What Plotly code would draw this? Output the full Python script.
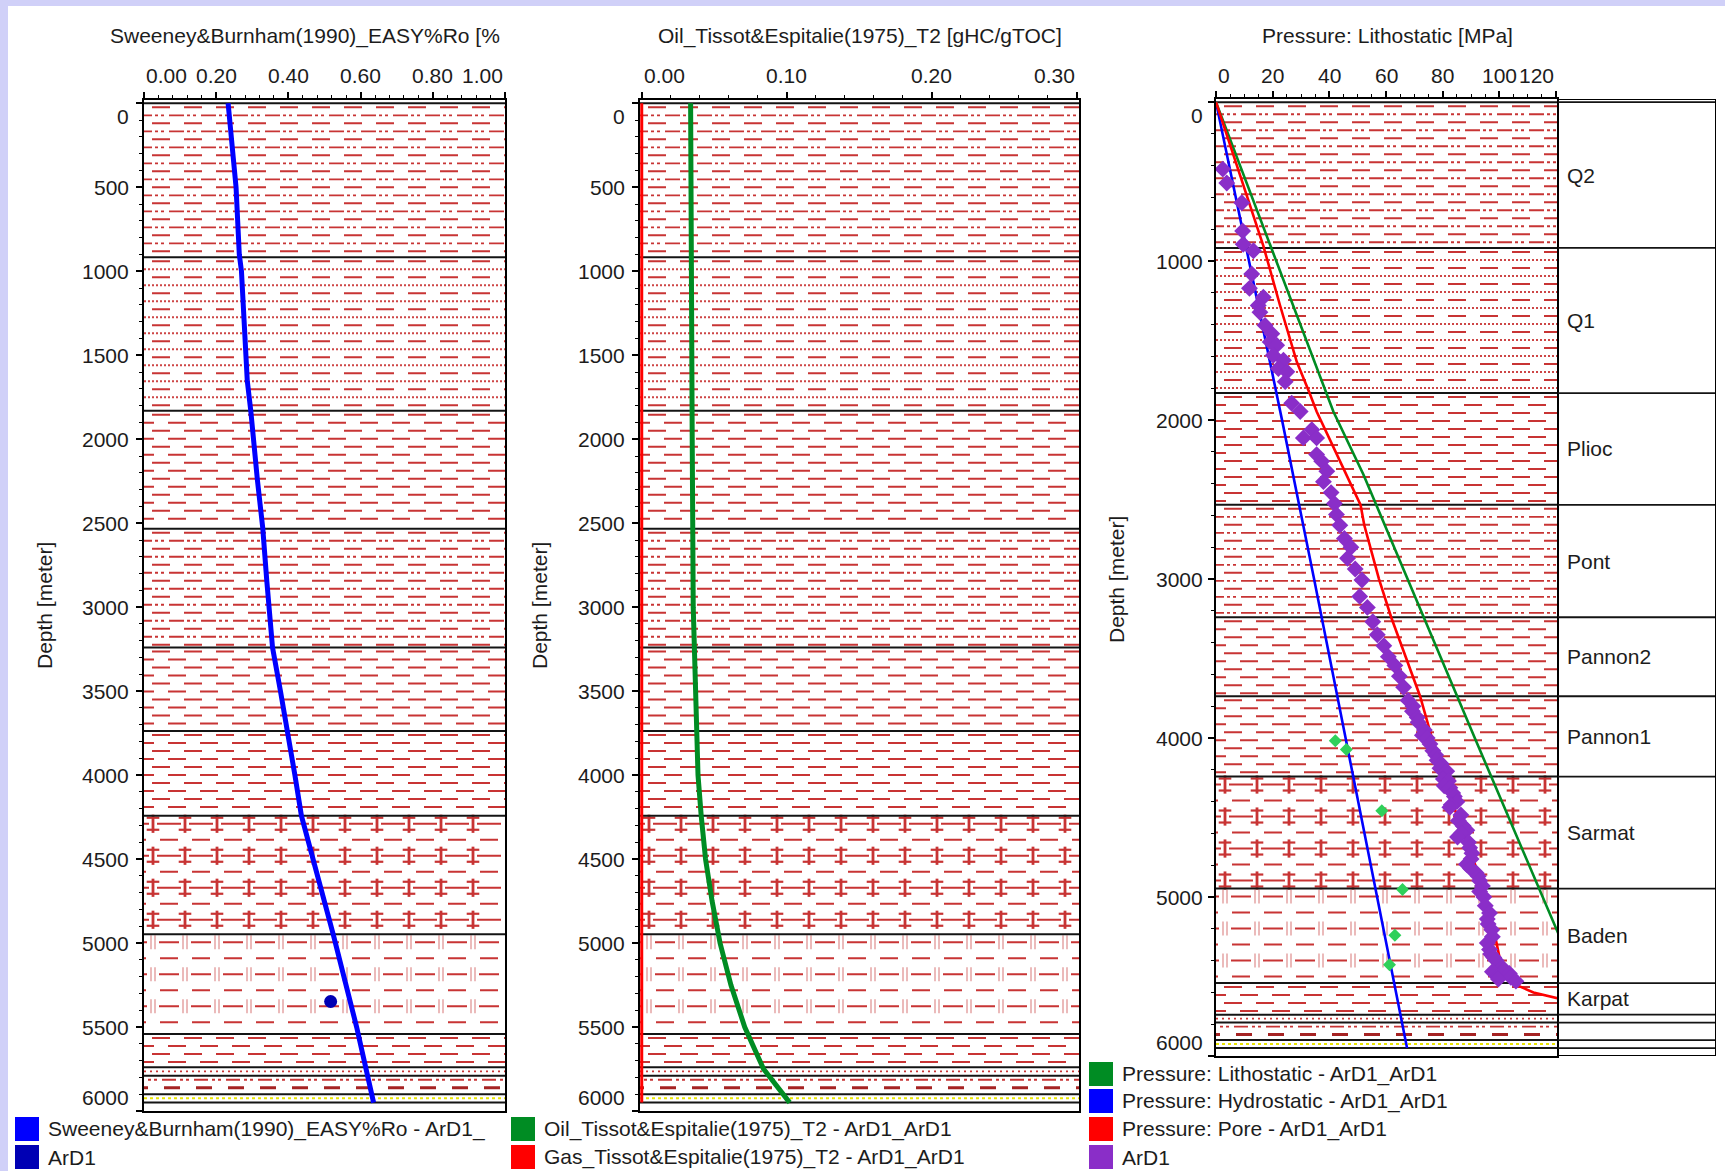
import plotly.graph_objects as go

W, H = 1725, 1171
FONT = "Liberation Sans, Arial, sans-serif"
TXT = "#1c1c1c"
RED_H = "rgb(200,52,52)"

# ---------------- data ----------------
formation_names = ["Q2", "Q1", "Plioc", "Pont", "Pannon2", "Pannon1", "Sarmat", "Baden", "Karpat"]
formation_tops = [0, 917, 1830, 2533, 3240, 3737, 4242, 4947, 5541]
minor_layer_tops = [5740, 5790, 5900, 5950]
section_base = 6000
layer_lithology = ["shale_slash", "shale_silt", "shale", "shale_slash", "shale", "shale",
                   "marl", "marl_silt", "shale", "dotted", "silt", "sand", "none"]

ro_depth = [0, 350, 500, 900, 1000, 1650, 1835, 2240, 2530, 2840, 3240, 3500, 3740, 4000,
            4242, 4500, 4947, 5500, 5950]
ro_value = [0.233, 0.247, 0.255, 0.264, 0.270, 0.286, 0.296, 0.314, 0.329, 0.340, 0.356, 0.378,
            0.398, 0.418, 0.436, 0.469, 0.524, 0.589, 0.636]
ro_meas_depth = [5348]
ro_meas_value = [0.517]

oil_depth = [0, 1000, 2000, 3000, 3500, 4000, 4242, 4500, 4750, 5000, 5250, 5500, 5750, 5950]
oil_value = [0.0337, 0.0340, 0.0348, 0.0355, 0.0370, 0.0388, 0.0410, 0.0440, 0.0485, 0.0540,
             0.0615, 0.0710, 0.0840, 0.1020]
gas_depth = [0, 5950]
gas_value = [0.0, 0.0]

litho_depth = [0, 950, 1946, 2342, 3000, 4000, 5240, 5950]
litho_mpa = [0.0, 20.2, 41.4, 52.0, 67.5, 91.3, 121.0, 138.0]
hydro_depth = [0, 1000, 2000, 3000, 4000, 5000, 5950]
hydro_mpa = [0.0, 11.7, 23.3, 34.6, 45.8, 56.9, 67.4]
pore_depth = [0, 904, 1279, 1633, 1830, 1946, 2154, 2362, 2533, 2660, 3000, 3240, 3737, 4242,
              4590, 4947, 5275, 5420, 5500, 5550, 5600, 5635, 5660]
pore_mpa = [0.0, 16.7, 22.6, 28.5, 33.0, 35.5, 41.0, 46.5, 51.0, 52.3, 57.5, 61.8, 72.0, 80.0,
            87.2, 94.5, 98.8, 100.5, 102.5, 105.5, 112.0, 120.3, 126.0]

meas_depth = [421, 508, 633, 810, 894, 935, 1081, 1171, 1227, 1279, 1321, 1404, 1456, 1508, 1529,
              1592, 1623, 1675, 1696, 1758, 1894, 1946, 2060, 2112, 2112, 2217, 2258, 2321,
              2387, 2456, 2525, 2594, 2662, 2745, 2800, 2869, 2937, 3006, 3109, 3178, 3268, 3350,
              3419, 3488, 3543, 3611, 3680, 3763, 3800, 3831, 3870, 3900, 3950, 3983, 4000, 4038,
              4080, 4106, 4140, 4161, 4190, 4209, 4258, 4270, 4300, 4313, 4345, 4368, 4400, 4420,
              4436, 4484, 4520, 4553, 4580, 4600, 4622, 4656, 4690, 4725, 4760, 4794, 4820, 4849,
              4870, 4897, 4930, 4966, 5000, 5055, 5100, 5138, 5170, 5206, 5250, 5289, 5330, 5358,
              5380, 5399, 5440, 5460, 5470, 5481, 5500, 5505, 5516, 5529]
meas_mpa = [2.4, 3.8, 9.1, 9.4, 9.6, 13.2, 12.6, 11.8, 16.7, 14.9, 15.5, 17.3, 19.7, 19.1, 21.4,
            20.2, 23.8, 22.0, 25.0, 24.4, 26.7, 29.7, 33.8, 30.8, 35.5, 35.5, 37.3, 39.1,
            37.9, 40.6, 41.8, 42.5, 43.7, 45.3, 47.6, 46.4, 49.1, 51.5, 50.7, 53.4, 55.3, 56.9,
            59.2, 60.8, 63.1, 64.7, 66.2, 67.8, 69.5, 69.3, 71.0, 71.3, 73.5, 72.8, 74.5, 75.5,
            76.5, 77.5, 78.0, 79.4, 79.0, 81.4, 80.2, 82.0, 80.5, 82.5, 83.5, 84.1, 85.0, 83.0,
            82.5, 86.4, 85.5, 87.2, 88.5, 86.5, 85.2, 89.1, 89.5, 90.3, 90.0, 88.4, 89.8, 91.8,
            92.5, 93.0, 94.0, 93.0, 94.5, 95.0, 96.5, 95.7, 96.0, 97.3, 97.5, 95.7, 96.5, 96.9,
            98.0, 98.8, 100.8, 101.5, 97.5, 103.5, 99.5, 104.0, 99.6, 105.8]
hmeas_depth = [4017, 4072, 4457, 4952, 5241, 5426]
hmeas_mpa = [42.1, 46.0, 58.5, 65.8, 63.1, 61.2]

ro_ticks = [0.0, 0.2, 0.4, 0.6, 0.8, 1.0]
gen_ticks = [0.0, 0.1, 0.2, 0.3]
p_ticks = [0, 20, 40, 60, 80, 100, 120]
depth_ticks_fine = list(range(0, 6001, 500))
depth_ticks_coarse = list(range(0, 6001, 1000))

panel_titles = ["Sweeney&Burnham(1990)_EASY%Ro [%", "Oil_Tissot&Espitalie(1975)_T2 [gHC/gTOC]",
                "Pressure: Lithostatic [MPa]"]
legend_items = [
    ("Sweeney&Burnham(1990)_EASY%Ro - ArD1_", "#0000ff", 15, 1129),
    ("ArD1", "#0000b4", 15, 1157),
    ("Oil_Tissot&Espitalie(1975)_T2 - ArD1_ArD1", "#008c23", 511, 1129),
    ("Gas_Tissot&Espitalie(1975)_T2 - ArD1_ArD1", "#ff0000", 511, 1157),
    ("Pressure: Lithostatic - ArD1_ArD1", "#008c23", 1089, 1074),
    ("Pressure: Hydrostatic - ArD1_ArD1", "#0000ff", 1089, 1101),
    ("Pressure: Pore - ArD1_ArD1", "#ff0000", 1089, 1129),
    ("ArD1", "#8a2ec8", 1089, 1157),
]

# ---------------- layout geometry ----------------
YR = [6000, -20]
PANELS = [
    dict(xa="x", ya="y", left=144, right=505, top=100, bottom=1111, xr=[0.0, 1.0], lshift=-13),
    dict(xa="x2", ya="y2", left=640, right=1079, top=100, bottom=1111, xr=[-0.0012, 0.3015],
         lshift=-13),
    dict(xa="x3", ya="y3", left=1216, right=1557, top=99, bottom=1056, xr=[0.0, 120.3],
         lshift=-11),
]
COL_L, COL_R = 1557, 1716


def fx(px):
    return px / W


def fy(py):
    return 1 - py / H


fig = go.Figure()
layer_tops = formation_tops + minor_layer_tops
layer_bases = layer_tops[1:] + [section_base]


def add_hatching(p):
    x0, x1 = p["xr"]
    wpx = p["right"] - p["left"]
    ux = (x1 - x0) / wpx
    uy = (YR[0] - YR[1]) / (p["bottom"] - p["top"])
    lines = {}
    marks = {}

    def hline(d, start, dash, width=2.0, color=RED_H):
        g = lines.setdefault((start, dash, width, color), ([], []))
        g[0].extend([x0 + start * ux, x1 + 3 * ux, None])
        g[1].extend([d, d, None])

    def glyphs(d, offset, symbol, size, width, color, dy=0.0):
        g = marks.setdefault((symbol, size, width, color), ([], []))
        xp = offset
        while xp < wpx - 2:
            g[0].append(x0 + xp * ux)
            g[1].append(d + dy * uy)
            xp += 32

    for top, base, lith in zip(layer_tops, layer_bases, layer_lithology):
        if lith == "none":
            continue
        pitch = 16 if lith in ("marl", "marl_silt") else 8
        first = 8 if pitch == 16 else 4
        k = 0
        while True:
            d = top + (first + pitch * k) * uy
            if d > base - 2.5 * uy:
                break
            if lith == "shale":
                hline(d, -24 if k % 2 == 0 else -8, "18px,14px")
            elif lith == "shale_slash":
                if k % 2 == 0:
                    hline(d, -24, "18px,14px")
                else:
                    hline(d, -21, "3px,3px,3px,5px,15px,3px", 1.9)
            elif lith == "shale_silt":
                if k % 2 == 0:
                    hline(d, -24, "18px,14px")
                else:
                    hline(d, 0, "2px,2px", 2.0, "rgb(205,70,70)")
            elif lith == "marl":
                if k % 2 == 0:
                    hline(d, -19, "24px,8px")
                    glyphs(d, 9, "line-ns", 13, 2.8, RED_H)
                    glyphs(d, 9, "line-ew", 9, 2.2, RED_H, -6.0)
                    glyphs(d, 9, "line-ew", 9, 2.2, RED_H, 6.0)
                else:
                    hline(d, -16, "18px,14px")
            elif lith == "marl_silt":
                if k % 2 == 0:
                    hline(d, -17, "20px,12px")
                    glyphs(d, 7, "line-ns", 10, 1.2, "rgb(222,140,140)")
                    glyphs(d, 11, "line-ns", 10, 1.2, "rgb(222,140,140)")
                else:
                    hline(d, -16, "18px,14px")
            elif lith == "dotted":
                hline(d, 0, "2px,4px", 1.8)
            elif lith == "silt":
                if k % 2 == 0:
                    hline(d, -28, "3px,3px,3px,5px,14px,4px", 1.8)
                else:
                    hline(d, -12, "16px,16px", 3.0, "rgb(165,35,35)")
            elif lith == "sand":
                hline(d, 0, "3px,3px", 2.0, "rgb(232,228,0)")
            k += 1

    for (start, dash, width, color), (xs, ys) in lines.items():
        fig.add_trace(go.Scatter(x=xs, y=ys, mode="lines", xaxis=p["xa"], yaxis=p["ya"],
                                 line=dict(color=color, width=width, dash=dash),
                                 hoverinfo="skip", showlegend=False))
    for (symbol, size, width, color), (xs, ys) in marks.items():
        fig.add_trace(go.Scatter(x=xs, y=ys, mode="markers", xaxis=p["xa"], yaxis=p["ya"],
                                 marker=dict(symbol=symbol, size=size, color=color,
                                             line=dict(width=width, color=color)),
                                 hoverinfo="skip", showlegend=False))


def add_boundaries(p):
    x0, x1 = p["xr"]
    xs, ys = [], []
    for t in layer_tops:
        xs += [x0 - (x1 - x0), x1 + (x1 - x0), None]
        ys += [t, t, None]
    fig.add_trace(go.Scatter(x=xs, y=ys, mode="lines", xaxis=p["xa"], yaxis=p["ya"],
                             line=dict(color="#141414", width=2), hoverinfo="skip",
                             showlegend=False))


for p in PANELS:
    add_hatching(p)
    add_boundaries(p)

# panel 1 curves
fig.add_trace(go.Scatter(x=ro_value, y=ro_depth, mode="lines", xaxis="x", yaxis="y",
                         line=dict(color="#0000ff", width=5), showlegend=False))
fig.add_trace(go.Scatter(x=ro_meas_value, y=ro_meas_depth, mode="markers", xaxis="x", yaxis="y",
                         marker=dict(color="#0000b4", size=13, symbol="circle"), showlegend=False))
# panel 2 curves
fig.add_trace(go.Scatter(x=gas_value, y=gas_depth, mode="lines", xaxis="x2", yaxis="y2",
                         line=dict(color="#ff0000", width=3), showlegend=False))
fig.add_trace(go.Scatter(x=oil_value, y=oil_depth, mode="lines", xaxis="x2", yaxis="y2",
                         line=dict(color="#008c23", width=5), showlegend=False))
# panel 3 curves
fig.add_trace(go.Scatter(x=hydro_mpa, y=hydro_depth, mode="lines", xaxis="x3", yaxis="y3",
                         line=dict(color="#0000ff", width=2.6), showlegend=False))
fig.add_trace(go.Scatter(x=litho_mpa, y=litho_depth, mode="lines", xaxis="x3", yaxis="y3",
                         line=dict(color="#008c23", width=2.6), showlegend=False))
fig.add_trace(go.Scatter(x=pore_mpa, y=pore_depth, mode="lines", xaxis="x3", yaxis="y3",
                         line=dict(color="#ff0000", width=2.6), showlegend=False))
fig.add_trace(go.Scatter(x=meas_mpa, y=meas_depth, mode="markers", xaxis="x3", yaxis="y3",
                         marker=dict(color="#8a2ec8", size=13, symbol="diamond"), showlegend=False))
fig.add_trace(go.Scatter(x=hmeas_mpa, y=hmeas_depth, mode="markers", xaxis="x3", yaxis="y3",
                         marker=dict(color="#2fd05a", size=10, symbol="diamond"), showlegend=False))

# formation column lines
cx, cy = [], []
for t in layer_tops:
    cx += [0, 1, None]
    cy += [t, t, None]
fig.add_trace(go.Scatter(x=cx, y=cy, mode="lines", xaxis="x4", yaxis="y3",
                         line=dict(color="#141414", width=1.8), hoverinfo="skip", showlegend=False))

# ---------------- axes ----------------
axis_specs = [(0.2, 0.04, 500, 100), (0.1, 0.02, 500, 100), (20, 5, 1000, 200)]
layout_axes = {}
for i, (p, (xd, xm, yd, ym)) in enumerate(zip(PANELS, axis_specs)):
    sfx = "" if i == 0 else str(i + 1)
    common = dict(showline=True, mirror=True, linecolor="black", linewidth=2,
                  ticks="outside", ticklen=6, tickwidth=1.5, tickcolor="black",
                  showticklabels=False, showgrid=False, zeroline=False, fixedrange=True)
    layout_axes["xaxis" + sfx] = dict(
        domain=[fx(p["left"]), fx(p["right"])], range=p["xr"], side="top", anchor=p["ya"],
        tick0=0, dtick=xd,
        minor=dict(ticks="outside", ticklen=3, tickwidth=1.2, tickcolor="black", dtick=xm,
                   showgrid=False), **common)
    layout_axes["yaxis" + sfx] = dict(
        domain=[fy(p["bottom"]), fy(p["top"])], range=YR, anchor=p["xa"], tick0=0, dtick=yd,
        minor=dict(ticks="outside", ticklen=3, tickwidth=1.2, tickcolor="black", dtick=ym,
                   showgrid=False), **common)
layout_axes["xaxis4"] = dict(domain=[fx(COL_L), fx(COL_R)], range=[0, 1], anchor="y3",
                             visible=False, fixedrange=True)

# ---------------- annotations ----------------
ann = []
tf = dict(family=FONT, size=21, color=TXT)


def A(**kw):
    d = dict(showarrow=False, font=tf)
    d.update(kw)
    ann.append(d)


# x tick labels
for p, ticks, fmt in zip(PANELS, [ro_ticks, gen_ticks, p_ticks],
                         ["{:.2f}", "{:.2f}", "{:d}"]):
    for j, v in enumerate(ticks):
        xa = "left" if j == 0 else ("right" if j == len(ticks) - 1 else "center")
        A(x=v, xref=p["xa"], y=fy(76), yref="paper", text=fmt.format(v), xanchor=xa,
          yanchor="middle")
# y tick labels
for p, ticks in zip(PANELS, [depth_ticks_fine, depth_ticks_fine, depth_ticks_coarse]):
    for j, v in enumerate(ticks):
        ya = "top" if j == 0 else ("bottom" if j == len(ticks) - 1 else "middle")
        A(x=0, xref=p["xa"] + " domain", xanchor="right", xshift=p["lshift"], y=v, yref=p["ya"],
          yanchor=ya, text=str(v))
# titles
A(x=fx(108), xref="paper", xanchor="left", y=fy(36), yref="paper", yanchor="middle",
  text=panel_titles[0])
A(x=fx(860), xref="paper", xanchor="center", y=fy(36), yref="paper", yanchor="middle",
  text=panel_titles[1])
A(x=fx(1387), xref="paper", xanchor="center", y=fy(36), yref="paper", yanchor="middle",
  text=panel_titles[2])
for xp, yp in [(44, 606), (539, 606), (1116, 580)]:
    A(x=fx(xp), xref="paper", y=fy(yp), yref="paper", text="Depth [meter]", textangle=-90,
      xanchor="center", yanchor="middle")
# formation names
for name, top, base in zip(formation_names, formation_tops, formation_tops[1:] + [minor_layer_tops[0]]):
    A(x=0.05, xref="x4", xanchor="left", y=(top + base) / 2, yref="y3", yanchor="middle",
      text=name)

# legend
shapes = []
for text, color, sx, cyp in legend_items:
    shapes.append(dict(type="rect", xref="paper", yref="paper", x0=fx(sx), x1=fx(sx + 24),
                       y0=fy(cyp + 12), y1=fy(cyp - 12), fillcolor=color, line=dict(width=0)))
    A(x=fx(sx + 31), xref="paper", xanchor="left", y=fy(cyp), yref="paper", yanchor="middle",
      text=text)

# column frame
shapes.append(dict(type="rect", xref="x4", yref="y3", x0=0, x1=1, y0=YR[1], y1=YR[0],
                   line=dict(color="black", width=2)))
# window border (lavender)
shapes.append(dict(type="rect", xref="paper", yref="paper", x0=0, x1=1, y0=fy(6), y1=1,
                   fillcolor="#d0d0f8", line=dict(width=0), layer="below"))
shapes.append(dict(type="rect", xref="paper", yref="paper", x0=0, x1=fx(8), y0=0, y1=1,
                   fillcolor="#d0d0f8", line=dict(width=0), layer="below"))

fig.update_layout(width=W, height=H, margin=dict(l=0, r=0, t=0, b=0), autosize=False,
                  paper_bgcolor="white", plot_bgcolor="white", showlegend=False,
                  hovermode=False, annotations=ann, shapes=shapes, font=tf, **layout_axes)

fig.write_html("out.html")
